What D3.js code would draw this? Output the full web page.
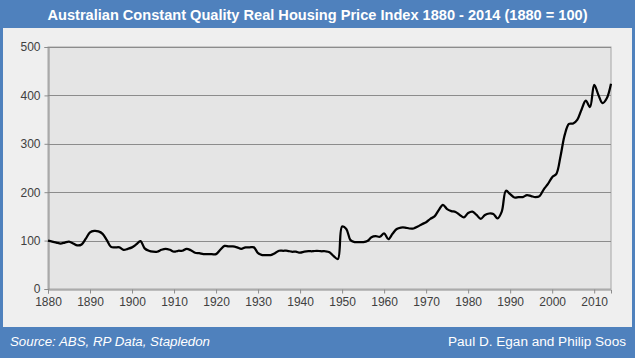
<!DOCTYPE html>
<html><head><meta charset="utf-8">
<script src="https://cdn.jsdelivr.net/npm/d3@7"></script>
<style>html,body{margin:0;padding:0;background:#fff;}svg{display:block;}</style>
</head><body>
<script>
const titleText = "Australian Constant Quality Real Housing Price Index 1880 - 2014 (1880 = 100)";
const sourceText = "Source: ABS, RP Data, Stapledon";
const authorText = "Paul D. Egan and Philip Soos";
const startYear = 1880;
const endYear = 2014;
const yTicks = [0, 100, 200, 300, 400, 500];
const xTicks = [1880,1890,1900,1910,1920,1930,1940,1950,1960,1970,1980,1990,2000,2010];
const years = d3.range(1880, 2015);
const index = [
 100,98,96,94,96,98,94,90,92,104,
 117,120,119,114,101,87,86,86,81,83,
 86,92,99,84,79,77,77,81,83,81,
 77,79,79,83,80,75,74,72,72,72,
 72,81,89,88,88,86,83,86,86,86,
 74,70,70,70,74,79,79,79,77,77,
 75,77,78,78,79,78,78,76,68,62,
 129,124,101,97,97,97,99,107,109,108,
 115,103,114,124,127,127,125,125,129,134,
 138,145,150,163,174,165,161,159,153,148,
 157,160,153,145,153,156,155,146,160,203,
 196,189,190,190,194,192,190,192,206,217,
 231,238,275,319,341,342,350,371,389,376,
 422,401,384,394,424
];
const data = years.map((y,i)=>({year:y, value:index[i]}));

const W = 635, H = 358;
const blue = "#4f81bd";
const svg = d3.select("body").append("svg").attr("width", W).attr("height", H);
svg.append("rect").attr("width", W).attr("height", H).attr("fill", blue);
svg.append("rect").attr("x", 3).attr("y", 28).attr("width", W-6).attr("height", 299).attr("fill", "#efefef");

svg.append("text").attr("x", W/2).attr("y", 20).attr("text-anchor","middle")
  .attr("font-family","'Liberation Sans', Arial, sans-serif").attr("font-weight","bold")
  .attr("font-size", 14.5).attr("fill","#fff")
  .attr("textLength", 540).attr("lengthAdjust","spacingAndGlyphs").text(titleText);

svg.append("text").attr("x", 10).attr("y", 346)
  .attr("font-family","'Liberation Sans', Arial, sans-serif").attr("font-style","italic")
  .attr("font-size", 12.5).attr("fill","#fff").attr("textLength", 200).attr("lengthAdjust","spacingAndGlyphs").text(sourceText);
svg.append("text").attr("x", 626).attr("y", 346).attr("text-anchor","end")
  .attr("font-family","'Liberation Sans', Arial, sans-serif")
  .attr("font-size", 12.5).attr("fill","#fff").attr("textLength", 178).attr("lengthAdjust","spacingAndGlyphs").text(authorText);

const L = 48, R = 611, T = 47, B = 289;
const x = d3.scaleLinear().domain([startYear, endYear]).range([L, R]);
const y = d3.scaleLinear().domain([0, 500]).range([B, T]);

svg.append("rect").attr("x", L).attr("y", T).attr("width", R-L).attr("height", B-T)
  .attr("fill", "#e5e5e5").attr("stroke", "#a6a6a6").attr("stroke-width", 1);

svg.append("g").selectAll("line").data(yTicks.filter(d=>d>0)).join("line")
  .attr("x1", L).attr("x2", R).attr("y1", d=>Math.round(y(d))+0.5).attr("y2", d=>Math.round(y(d))+0.5)
  .attr("stroke", "#8c8c8c").attr("stroke-width", 1);

const fontAxis = "'Liberation Sans', Arial, sans-serif";
const yAxis = svg.append("g").attr("transform", `translate(${L+0.5},0)`)
  .call(d3.axisLeft(y).tickValues(yTicks).tickSize(4).tickPadding(4).tickFormat(d3.format("d")));
const xAxis = svg.append("g").attr("transform", `translate(0,${B+0.5})`)
  .call(d3.axisBottom(x).tickValues(xTicks).tickSize(4).tickPadding(4).tickFormat(d3.format("d")));
[yAxis, xAxis].forEach(g=>{
  g.select(".domain").attr("stroke", "#8c8c8c");
  g.selectAll(".tick line").attr("stroke", "#8c8c8c");
  g.selectAll(".tick text").attr("font-family", fontAxis).attr("font-size", 12).attr("fill", "#404040");
});

const line = d3.line().x(d=>x(d.year)).y(d=>y(d.value)).curve(d3.curveCatmullRom.alpha(0.5));
svg.append("path").datum(data).attr("d", line).attr("fill","none")
  .attr("stroke","#000").attr("stroke-width", 2.25).attr("stroke-linejoin","round");
</script>
</body></html>
